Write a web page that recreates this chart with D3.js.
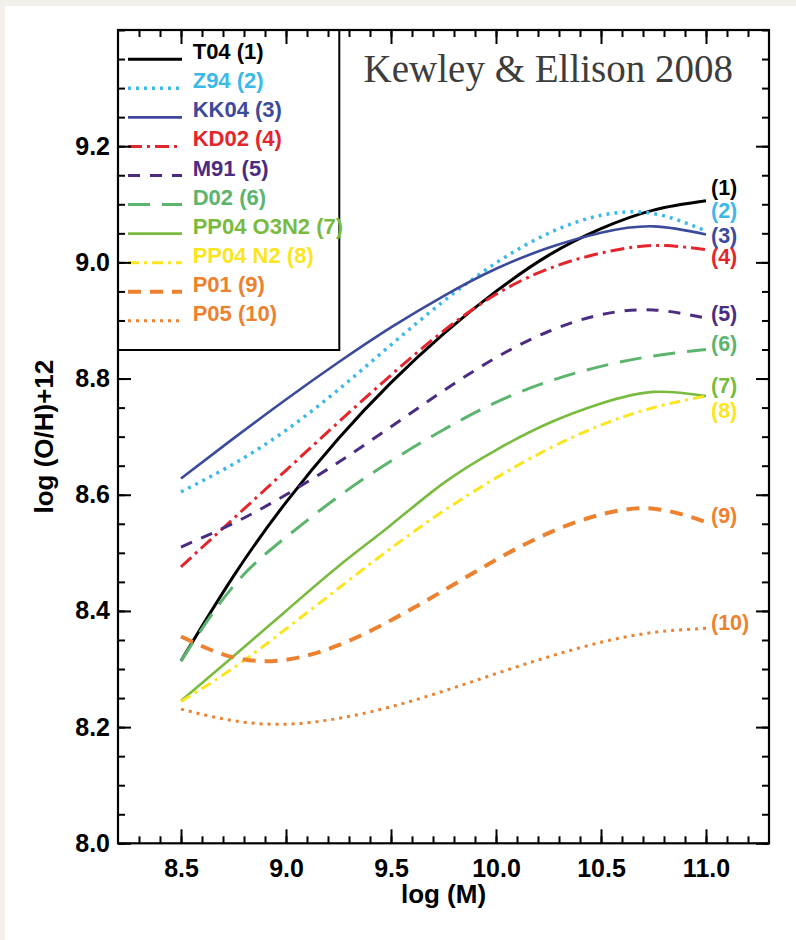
<!DOCTYPE html>
<html><head><meta charset="utf-8">
<script src="https://cdn.jsdelivr.net/npm/d3@7"></script>
<style>
html,body{margin:0;padding:0;background:#f3f0ea;}
svg{display:block;}
</style></head><body>
<svg id="chart" width="796" height="940"></svg>
<script>
// ---- data ----
const massGrid = [8.5, 8.75, 9.0, 9.25, 9.5, 9.75, 10.0, 10.25, 10.5, 10.75, 11.0];
const calibrations = ["T04", "Z94", "KK04", "KD02", "M91", "D02", "PP04 O3N2", "PP04 N2", "P01", "P05"];
const t04  = [8.314, 8.460, 8.587, 8.697, 8.793, 8.877, 8.950, 9.012, 9.058, 9.090, 9.106];
const z94  = [8.605, 8.653, 8.711, 8.781, 8.858, 8.933, 8.999, 9.050, 9.081, 9.084, 9.054];
const kk04 = [8.628, 8.697, 8.764, 8.828, 8.888, 8.942, 8.989, 9.025, 9.051, 9.062, 9.048];
const kd02 = [8.476, 8.559, 8.642, 8.725, 8.806, 8.882, 8.945, 8.989, 9.016, 9.029, 9.022];
const m91  = [8.510, 8.551, 8.600, 8.656, 8.717, 8.779, 8.836, 8.881, 8.910, 8.918, 8.904];
const d02  = [8.314, 8.443, 8.527, 8.597, 8.658, 8.712, 8.759, 8.795, 8.821, 8.839, 8.850];
const pp04o3n2 = [8.245, 8.322, 8.400, 8.477, 8.548, 8.620, 8.677, 8.723, 8.757, 8.777, 8.770];
const pp04n2   = [8.244, 8.302, 8.369, 8.439, 8.508, 8.572, 8.629, 8.679, 8.720, 8.750, 8.770];
const p01  = [8.356, 8.320, 8.316, 8.341, 8.384, 8.435, 8.488, 8.534, 8.566, 8.576, 8.553];
const p05  = [8.231, 8.211, 8.205, 8.215, 8.235, 8.262, 8.292, 8.321, 8.346, 8.363, 8.370];
const endLabels = ["(1)", "(2)", "(3)", "(4)", "(5)", "(6)", "(7)", "(8)", "(9)", "(10)"];
const endLabelValues = [9.130, 9.090, 9.047, 9.010, 8.913, 8.861, 8.789, 8.746, 8.565, 8.381];
const xTickValues = [8.5, 9.0, 9.5, 10.0, 10.5, 11.0];
const yTickValues = [8.0, 8.2, 8.4, 8.6, 8.8, 9.0, 9.2];
const xTitle = "log (M)";
const yTitle = "log (O/H)+12";
const titleText = "Kewley & Ellison 2008";

const seriesValues = [t04, z94, kk04, kd02, m91, d02, pp04o3n2, pp04n2, p01, p05];

// ---- styles ----
const colors = ["#000000", "#3cb9e6", "#3b4a9b", "#e4252b", "#4a2d80", "#5bb56e", "#79bb3f", "#fbe51e", "#ec8230", "#ec8230"];
const dashes = [null, "3,5", null, "14,5,3,5", "12,10", "22,12", null, "11,5,3,5", "13,9", "3,5"];
const widths = [3, 3.5, 2.6, 3, 3, 3, 2.6, 3, 4, 3];

const W = 796, H = 940;
const L = 118, R = 769, T = 30, B = 843.3;
const svg = d3.select("#chart");

svg.append("rect").attr("x", 5).attr("y", 6).attr("width", W).attr("height", H).attr("fill", "#ffffff");

const x = d3.scaleLinear().domain([8.2, 11.3]).range([L, R]);
const y = d3.scaleLinear().domain([8.0, 9.4]).range([B, T]);

const FONT = "'Liberation Sans', Arial, Helvetica, sans-serif";

// curves
const line = d3.line().x((d, i) => x(massGrid[i])).y(d => y(d)).curve(d3.curveNatural);
const curves = svg.append("g");
seriesValues.forEach((vals, i) => {
  curves.append("path")
    .attr("d", line(vals))
    .attr("fill", "none")
    .attr("stroke", colors[i])
    .attr("stroke-width", widths[i])
    .attr("stroke-dasharray", dashes[i] || "none");
});

// end labels
const lab = svg.append("g");
endLabels.forEach((t, i) => {
  lab.append("text")
    .attr("x", x(11.0) + 5)
    .attr("y", y(endLabelValues[i]))
    .attr("dy", "0.36em")
    .attr("fill", colors[i])
    .attr("font-family", FONT).attr("font-weight", "bold").attr("font-size", 21.5)
    .text(t);
});

// legend box
const legW = 339.3 - L, legH = 350 - T;
svg.append("rect").attr("x", L).attr("y", T).attr("width", legW).attr("height", legH)
  .attr("fill", "#ffffff").attr("stroke", "#000").attr("stroke-width", 2);
const leg = svg.append("g");
calibrations.forEach((name, i) => {
  const yy = 59.3 + i * 29.05;
  leg.append("line").attr("x1", 128).attr("x2", 182).attr("y1", yy).attr("y2", yy)
    .attr("stroke", colors[i]).attr("stroke-width", widths[i])
    .attr("stroke-dasharray", dashes[i] || "none");
  leg.append("text").attr("x", 192.7).attr("y", yy)
    .attr("fill", colors[i])
    .attr("font-family", FONT).attr("font-weight", "bold").attr("font-size", 22)
    .text(name + " " + endLabels[i]);
});

// axes
function styleAxis(g) {
  g.select(".domain").remove();
  g.selectAll(".tick line").attr("stroke", "#000").attr("stroke-width", 2);
  g.selectAll(".tick text").attr("fill", "#000").attr("font-family", FONT)
    .attr("font-weight", "bold").attr("font-size", 25);
}
const xMinor = d3.range(83, 113).map(v => v / 10);
const yMinor = d3.range(160, 189).map(v => v / 20);
const fmt = d3.format(".1f");

svg.append("g").attr("transform", `translate(0,${B})`)
  .call(d3.axisBottom(x).tickValues(xTickValues).tickSize(-14).tickPadding(16).tickFormat(fmt)).call(styleAxis);
svg.append("g").attr("transform", `translate(0,${B})`)
  .call(d3.axisBottom(x).tickValues(xMinor).tickSize(-7).tickFormat("")).call(styleAxis);
svg.append("g").attr("transform", `translate(0,${T})`)
  .call(d3.axisTop(x).tickValues(xTickValues).tickSize(-14).tickFormat("")).call(styleAxis);
svg.append("g").attr("transform", `translate(0,${T})`)
  .call(d3.axisTop(x).tickValues(xMinor).tickSize(-7).tickFormat("")).call(styleAxis);

svg.append("g").attr("transform", `translate(${L},0)`)
  .call(d3.axisLeft(y).tickValues(yTickValues).tickSize(-13).tickPadding(8).tickFormat(fmt)).call(styleAxis);
svg.append("g").attr("transform", `translate(${L},0)`)
  .call(d3.axisLeft(y).tickValues(yMinor).tickSize(-7).tickFormat("")).call(styleAxis);
svg.append("g").attr("transform", `translate(${R},0)`)
  .call(d3.axisRight(y).tickValues(yTickValues).tickSize(-13).tickFormat("")).call(styleAxis);
svg.append("g").attr("transform", `translate(${R},0)`)
  .call(d3.axisRight(y).tickValues(yMinor).tickSize(-7).tickFormat("")).call(styleAxis);

// frame
svg.append("rect").attr("x", L).attr("y", T).attr("width", R - L).attr("height", B - T)
  .attr("fill", "none").attr("stroke", "#000").attr("stroke-width", 2.2);

// axis titles
svg.append("text").attr("x", (L + R) / 2).attr("y", 903).attr("text-anchor", "middle")
  .attr("font-family", FONT).attr("font-weight", "bold").attr("font-size", 26).attr("fill", "#000")
  .text(xTitle);
svg.append("text").attr("transform", `translate(53,${(T + B) / 2}) rotate(-90)`).attr("text-anchor", "middle")
  .attr("font-family", FONT).attr("font-weight", "bold").attr("font-size", 26).attr("fill", "#000")
  .text(yTitle);

// title
svg.append("text").attr("x", 733).attr("y", 81.7).attr("text-anchor", "end")
  .attr("font-family", "'Liberation Serif', 'Times New Roman', serif").attr("font-size", 39).attr("fill", "#3d3d3d")
  .text(titleText);
</script>
</body></html>
